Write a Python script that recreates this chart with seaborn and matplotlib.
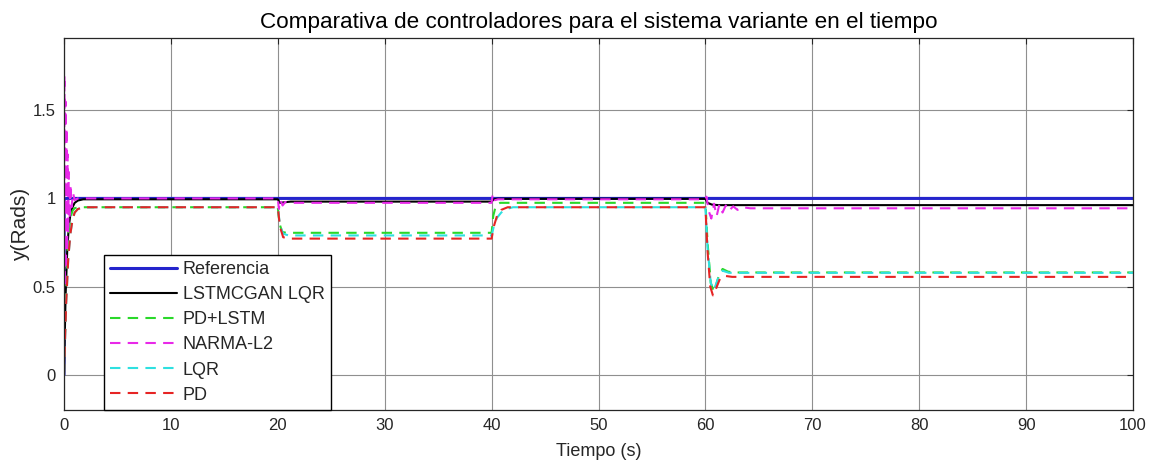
import matplotlib
matplotlib.use("Agg")
import matplotlib.pyplot as plt
import seaborn as sns
import pandas as pd

# Step responses of the controllers (time in s, output in rad)
ref_t = [0, 0.02, 100]
ref_y = [0, 1.0, 1.0]

lstmcgan_t = [0, 0.15, 0.3, 0.45, 0.6, 0.8, 1.0, 1.3, 1.8, 20.0, 20.2, 20.6, 21.2,
              40.0, 40.2, 40.6, 60.0, 60.2, 60.6, 61.2, 100]
lstmcgan_y = [0, 0.45, 0.70, 0.84, 0.91, 0.95, 0.975, 0.988, 0.995, 0.995, 0.975, 0.978, 0.982,
              0.982, 0.995, 0.998, 0.998, 0.975, 0.965, 0.962, 0.962]

pdlstm_t = [0, 0.2, 0.4, 0.6, 0.8, 1.0, 1.5, 20.0, 20.15, 20.4, 20.8, 40.0, 40.15, 40.4, 40.8,
            60.0, 60.2, 60.5, 60.8, 61.2, 61.6, 62.1, 62.6, 100]
pdlstm_y = [0, 0.50, 0.78, 0.89, 0.93, 0.945, 0.95, 0.95, 0.86, 0.81, 0.805, 0.805, 0.90, 0.96, 0.975,
            0.975, 0.75, 0.52, 0.47, 0.55, 0.60, 0.585, 0.58, 0.58]

narma_t = [0, 0.04, 0.09, 0.14, 0.19, 0.24, 0.29, 0.34, 0.39, 0.45, 0.52, 0.6, 0.7, 0.85, 1.0, 1.3,
           20.0, 20.1, 20.25, 20.45, 20.7, 21.0, 40.0, 40.1, 40.3, 40.6,
           60.0, 60.1, 60.3, 60.55, 60.8, 61.05, 61.3, 61.6, 61.9, 62.2, 62.6, 63.0, 63.5, 64.2, 100]
narma_y = [0, 1.70, 0.50, 1.55, 0.60, 1.40, 0.70, 1.25, 0.80, 1.15, 0.88, 1.08, 0.95, 1.03, 0.99, 1.0,
           1.0, 0.94, 0.99, 0.96, 0.98, 0.975, 0.975, 1.025, 0.99, 0.995,
           0.995, 1.01, 0.93, 0.886, 0.97, 0.90, 0.965, 0.92, 0.96, 0.93, 0.955, 0.935, 0.95, 0.944, 0.944]

lqr_t = [0, 0.2, 0.4, 0.6, 0.8, 1.0, 1.3, 1.8, 20.0, 20.2, 20.5, 21.0, 40.0, 40.2, 40.5, 40.9, 41.4, 42.0,
         60.0, 60.2, 60.5, 60.8, 61.2, 61.6, 62.2, 100]
lqr_y = [0, 0.40, 0.66, 0.80, 0.88, 0.92, 0.94, 0.95, 0.95, 0.85, 0.80, 0.79, 0.79, 0.84, 0.89, 0.92, 0.94, 0.95,
         0.95, 0.72, 0.52, 0.48, 0.55, 0.59, 0.578, 0.578]

pd_t = [0, 0.2, 0.4, 0.6, 0.8, 1.0, 1.3, 1.8, 20.0, 20.2, 20.5, 21.0, 40.0, 40.2, 40.5, 40.9, 41.5,
        60.0, 60.2, 60.45, 60.7, 61.0, 61.4, 61.9, 62.5, 100]
pd_y = [0, 0.40, 0.66, 0.80, 0.88, 0.92, 0.94, 0.95, 0.95, 0.84, 0.78, 0.772, 0.772, 0.84, 0.90, 0.935, 0.95,
        0.95, 0.70, 0.50, 0.45, 0.49, 0.55, 0.56, 0.555, 0.555]

labels = ["Referencia", "LSTMCGAN LQR", "PD+LSTM", "NARMA-L2", "LQR", "PD"]
colors = ["#2424cc", "#000000", "#2ad82a", "#e829e8", "#2ee0e0", "#e62424"]
x_ticks = [0, 10, 20, 30, 40, 50, 60, 70, 80, 90, 100]
y_ticks = [0, 0.5, 1, 1.5]
y_tick_labels = ["0", "0.5", "1", "1.5"]

sns.set_theme(style="white")
plt.rcParams["font.family"] = ["Liberation Sans", "DejaVu Sans"]
text_color = "#262626"

fig = plt.figure(figsize=(11.53, 4.72), dpi=100)
ax = fig.add_axes([0.0555, 0.1314, 0.9272, 0.7881])

series = [(ref_t, ref_y), (lstmcgan_t, lstmcgan_y), (pdlstm_t, pdlstm_y),
          (narma_t, narma_y), (lqr_t, lqr_y), (pd_t, pd_y)]
styles = [dict(lw=2.2, ls="-"), dict(lw=1.5, ls="-")] + [dict(lw=1.5, ls=(0, (5, 3.5)))] * 4

for (t, y), lab, col, st in zip(series, labels, colors, styles):
    df = pd.DataFrame({"t": t, "y": y})
    sns.lineplot(data=df, x="t", y="y", ax=ax, color=col, label=lab,
                 linewidth=st["lw"], linestyle=st["ls"], estimator=None, sort=False)

ax.set_xlim(0, 100)
ax.set_ylim(-0.2, 1.91)
ax.set_xticks(x_ticks)
ax.set_yticks(y_ticks)
ax.set_yticklabels(y_tick_labels)
ax.grid(True, color="#8f8f8f", linewidth=0.8)
ax.set_axisbelow(True)
ax.tick_params(direction="in", length=4, width=0.8, colors=text_color, labelsize=12,
               top=True, right=True, labelcolor=text_color, pad=6)
for sp in ax.spines.values():
    sp.set_color("#262626")
    sp.set_linewidth(0.9)

ax.set_xlabel("Tiempo (s)", fontsize=13, color=text_color, labelpad=7)
ax.set_ylabel("y(Rads)", fontsize=15, color=text_color, labelpad=2)
ax.set_title("Comparativa de controladores para el sistema variante en el tiempo",
             fontsize=16.2, color="#000000", pad=7)

leg = ax.legend(loc="lower left", bbox_to_anchor=(0.037, 0.0), borderaxespad=0,
                fontsize=13, handlelength=3.7, handletextpad=0.35, labelspacing=0.45,
                borderpad=0.35, fancybox=False, framealpha=1, edgecolor="#000000")
leg.get_frame().set_linewidth(1.0)
for txt in leg.get_texts():
    txt.set_color(text_color)

fig.savefig("out.png", dpi=100)
